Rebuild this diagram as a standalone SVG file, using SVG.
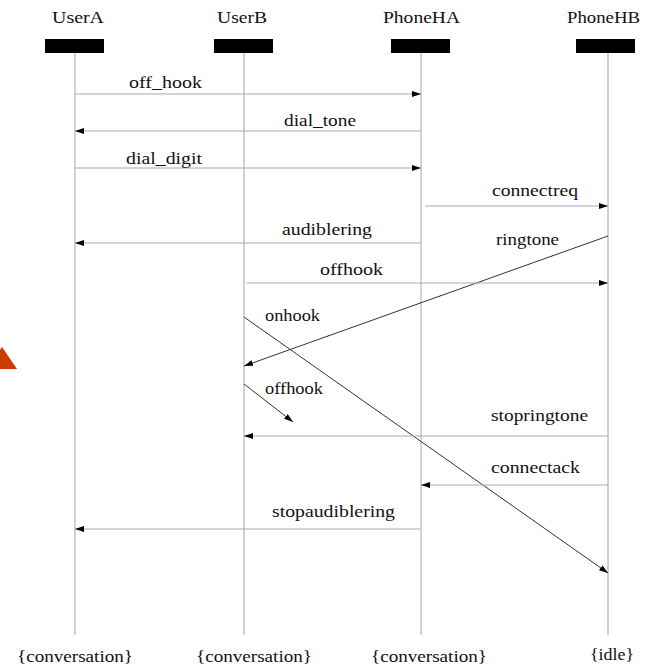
<svg xmlns="http://www.w3.org/2000/svg" width="648" height="667" viewBox="0 0 648 667" font-family="'Liberation Serif', 'DejaVu Serif', serif">
<defs>
<style>
text{font-family:'Liberation Serif','DejaVu Serif',serif;font-size:16px;fill:#111}
.life{stroke:#b8b0c0;stroke-width:1.2;fill:none}
.msg{stroke:#b0a8b8;stroke-width:1.2;fill:none}
.diag{stroke:#333;stroke-width:1;fill:none}
.box{fill:#000}
</style>
<marker id="ah" markerUnits="userSpaceOnUse" markerWidth="10" markerHeight="6" refX="9" refY="3" orient="auto">
<path d="M0,0 L9,3 L0,6 z" fill="#000"/>
</marker>
</defs>
<rect width="648" height="667" fill="#fff"/>
<polygon points="-13,369 2,347 17,369" fill="#cc3a00"/>

<g id="UserA">
<text x="52" y="23" textLength="52" lengthAdjust="spacingAndGlyphs">UserA</text>
<rect class="box" x="45" y="39" width="59" height="14"/>
<line class="life" x1="75" y1="53" x2="75" y2="635"/>
<text x="17" y="662" textLength="116" lengthAdjust="spacingAndGlyphs">{conversation}</text>
</g>
<g id="UserB">
<text x="217" y="23" textLength="50" lengthAdjust="spacingAndGlyphs">UserB</text>
<rect class="box" x="214" y="39" width="59" height="14"/>
<line class="life" x1="244" y1="53" x2="244" y2="635"/>
<text x="196" y="662" textLength="116" lengthAdjust="spacingAndGlyphs">{conversation}</text>
</g>
<g id="PhoneHA">
<text x="383" y="23" textLength="77" lengthAdjust="spacingAndGlyphs">PhoneHA</text>
<rect class="box" x="391" y="39" width="59" height="14"/>
<line class="life" x1="421" y1="53" x2="421" y2="635"/>
<text x="371" y="662" textLength="116" lengthAdjust="spacingAndGlyphs">{conversation}</text>
</g>
<g id="PhoneHB">
<text x="567" y="23" textLength="73" lengthAdjust="spacingAndGlyphs">PhoneHB</text>
<rect class="box" x="576" y="39" width="59" height="14"/>
<line class="life" x1="608" y1="53" x2="608" y2="635"/>
<text x="590" y="660" textLength="44" lengthAdjust="spacingAndGlyphs">{idle}</text>
</g>

<g id="connectors">
<line class="msg" x1="75" y1="94" x2="421" y2="94" marker-end="url(#ah)"/>
<line class="msg" x1="421" y1="131" x2="75" y2="131" marker-end="url(#ah)"/>
<line class="msg" x1="75" y1="168" x2="421" y2="168" marker-end="url(#ah)"/>
<line class="msg" x1="425" y1="206" x2="608" y2="206" marker-end="url(#ah)"/>
<line class="msg" x1="421" y1="243" x2="75" y2="243" marker-end="url(#ah)"/>
<line class="diag" x1="608" y1="236" x2="244" y2="366" marker-end="url(#ah)"/>
<line class="msg" x1="247" y1="283" x2="608" y2="283" marker-end="url(#ah)"/>
<line class="diag" x1="244" y1="317" x2="608" y2="573" marker-end="url(#ah)"/>
<line class="diag" x1="244" y1="384" x2="293" y2="422" marker-end="url(#ah)"/>
<line class="msg" x1="608" y1="436" x2="244" y2="436" marker-end="url(#ah)"/>
<line class="msg" x1="608" y1="485" x2="421" y2="485" marker-end="url(#ah)"/>
<line class="msg" x1="421" y1="529" x2="75" y2="529" marker-end="url(#ah)"/>

<text x="129" y="88" textLength="73" lengthAdjust="spacingAndGlyphs">off_hook</text>
<text x="284" y="126" textLength="72" lengthAdjust="spacingAndGlyphs">dial_tone</text>
<text x="126" y="164" textLength="76" lengthAdjust="spacingAndGlyphs">dial_digit</text>
<text x="492" y="196" textLength="86" lengthAdjust="spacingAndGlyphs">connectreq</text>
<text x="282" y="235" textLength="90" lengthAdjust="spacingAndGlyphs">audiblering</text>
<text x="496" y="245" textLength="63" lengthAdjust="spacingAndGlyphs">ringtone</text>
<text x="320" y="275" textLength="63" lengthAdjust="spacingAndGlyphs">offhook</text>
<text x="265" y="321" textLength="55" lengthAdjust="spacingAndGlyphs">onhook</text>
<text x="265" y="394" textLength="58" lengthAdjust="spacingAndGlyphs">offhook</text>
<text x="491" y="421" textLength="97" lengthAdjust="spacingAndGlyphs">stopringtone</text>
<text x="491" y="473" textLength="89" lengthAdjust="spacingAndGlyphs">connectack</text>
<text x="272" y="517" textLength="123" lengthAdjust="spacingAndGlyphs">stopaudiblering</text>
</g>
</svg>
